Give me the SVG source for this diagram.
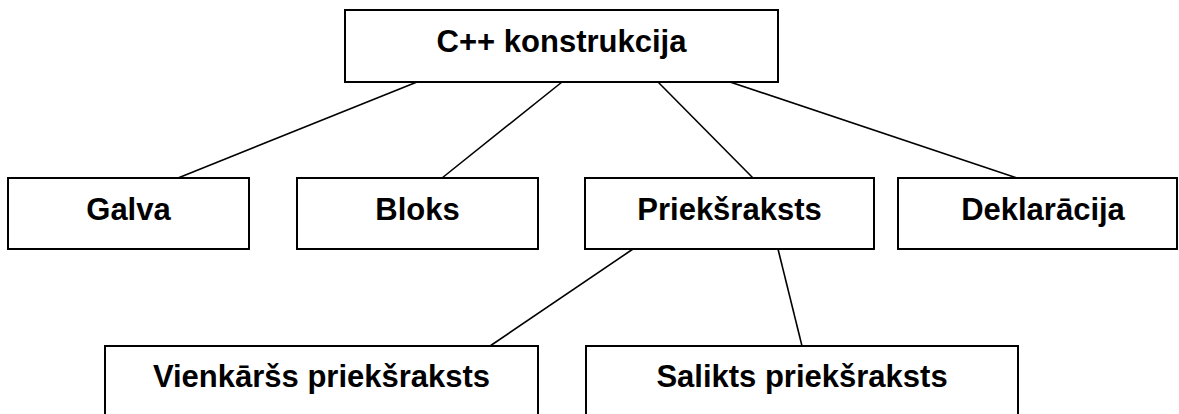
<svg xmlns="http://www.w3.org/2000/svg" width="1179" height="414" viewBox="0 0 1179 414">
<style>
.box{fill:#fff;stroke:#000;stroke-width:2}
.lbl{font-family:"Liberation Sans",Arial,sans-serif;font-weight:bold;font-size:31px;fill:#000;text-anchor:middle}
.edge{stroke:#000;stroke-width:1.6;fill:none}
</style>
<rect width="1179" height="414" fill="#fff"/>
<g id="connectors">
<line class="edge" x1="417" y1="82" x2="178" y2="178"/>
<line class="edge" x1="562" y1="82" x2="442" y2="178"/>
<line class="edge" x1="658" y1="82" x2="753" y2="178"/>
<line class="edge" x1="730" y1="82" x2="1017" y2="178"/>
<line class="edge" x1="633" y1="249" x2="490" y2="346"/>
<line class="edge" x1="778" y1="249" x2="802" y2="346"/>
</g>
<g id="node-root">
<rect class="box" x="345" y="10" width="433" height="72"/>
<text class="lbl" x="561.5" y="52">C++ konstrukcija</text>
</g>
<g id="node-galva">
<rect class="box" x="8" y="178" width="241" height="71"/>
<text class="lbl" x="128.5" y="220">Galva</text>
</g>
<g id="node-bloks">
<rect class="box" x="297" y="178" width="241" height="71"/>
<text class="lbl" x="417.5" y="220">Bloks</text>
</g>
<g id="node-prieksraksts">
<rect class="box" x="585" y="178" width="289" height="71"/>
<text class="lbl" x="729.5" y="220">Priekšraksts</text>
</g>
<g id="node-deklaracija">
<rect class="box" x="898" y="178" width="279" height="71"/>
<text class="lbl" x="1043" y="220">Deklarācija</text>
</g>
<g id="node-vienkarss">
<rect class="box" x="105" y="346" width="433" height="80"/>
<text class="lbl" x="321.5" y="387">Vienkāršs priekšraksts</text>
</g>
<g id="node-salikts">
<rect class="box" x="586" y="346" width="432" height="80"/>
<text class="lbl" x="802" y="387">Salikts priekšraksts</text>
</g>
</svg>
